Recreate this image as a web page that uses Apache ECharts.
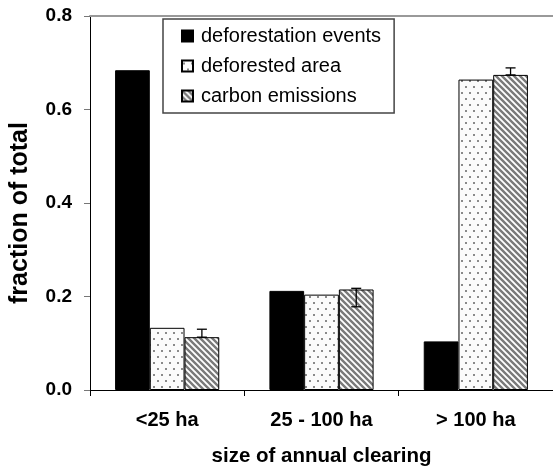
<!DOCTYPE html>
<html>
<head>
<meta charset="utf-8">
<script src="https://cdn.jsdelivr.net/npm/echarts@6/dist/echarts.min.js"></script>
<style>html,body{margin:0;padding:0;background:#fff}#c{width:553px;height:474px}</style>
</head>
<body>
<div id="c"></div>
<script>
const categories = ['<25 ha', '25 - 100 ha', '> 100 ha'];
const deforestationEvents = [0.684, 0.212, 0.104];
const deforestedArea = [0.133, 0.204, 0.664];
const carbonEmissions = [0.113, 0.215, 0.674];
const carbonErrHigh = [0.130, 0.2175, 0.689];
const carbonErrLow = [0.113, 0.178, 0.674];
const yTicks = [0.0, 0.2, 0.4, 0.6, 0.8];

const FONT = 'Liberation Sans, Arial, sans-serif';

function dotPattern() {
  const c = document.createElement('canvas');
  c.width = 8; c.height = 12;
  const g = c.getContext('2d');
  g.fillStyle = '#fbfbfb';
  g.fillRect(0, 0, 8, 12);
  g.fillStyle = '#8a8a8a';
  g.fillRect(1, 2, 2, 2);
  g.fillRect(5, 8, 2, 2);
  return c;
}
function hatchPattern() {
  const s = 6;
  const c = document.createElement('canvas');
  c.width = s; c.height = s;
  const g = c.getContext('2d');
  g.fillStyle = '#ffffff';
  g.fillRect(0, 0, s, s);
  g.strokeStyle = '#7a7a7a';
  g.lineWidth = 2.4;
  g.beginPath();
  g.moveTo(-1, -1); g.lineTo(s + 1, s + 1);
  g.moveTo(-s - 1, -1); g.lineTo(1, s + 1);
  g.moveTo(s - 1, -1); g.lineTo(2 * s + 1, s + 1);
  g.stroke();
  return c;
}

const chart = echarts.init(document.getElementById('c'), null, {renderer: 'canvas'});
const BW = 0.225;
const errData = categories.map((c, i) => [i, carbonErrHigh[i], carbonErrLow[i]]);

chart.setOption({
  animation: false,
  backgroundColor: '#fff',
  textStyle: {fontFamily: FONT},
  grid: {left: 90, right: 0, top: 16, bottom: 84, containLabel: false},
  legend: {
    orient: 'vertical',
    left: 163, top: 19,
    padding: [7, 13, 7, 18],
    itemGap: 10,
    itemWidth: 11, itemHeight: 11,
    icon: 'rect',
    borderColor: '#444', borderWidth: 1.5,
    backgroundColor: '#fff',
    data: ['deforestation events', 'deforested area', 'carbon emissions'],
    textStyle: {fontSize: 20, color: '#000', fontFamily: FONT, lineHeight: 20, padding: [0, 0, 0, 3]},
    selectedMode: false
  },
  graphic: [{
    type: 'text',
    x: 20, y: 213,
    rotation: Math.PI / 2,
    style: {text: 'fraction of total', fontSize: 25, fontWeight: 'bold', fill: '#000', fontFamily: FONT,
      align: 'center', verticalAlign: 'middle'}
  }],
  xAxis: [{
    type: 'category',
    data: categories,
    position: 'bottom',
    axisLine: {lineStyle: {color: '#000', width: 1}},
    axisTick: {show: true, length: 6, lineStyle: {color: '#000'}},
    axisLabel: {fontSize: 20, fontWeight: 'bold', color: '#000', margin: 20, fontFamily: FONT},
    name: 'size of annual clearing',
    nameLocation: 'middle',
    nameGap: 56,
    nameTextStyle: {fontSize: 20.5, fontWeight: 'bold', color: '#000', fontFamily: FONT}
  }, {
    type: 'category',
    data: categories,
    position: 'top',
    axisLine: {lineStyle: {color: '#999', width: 2}},
    axisTick: {show: false},
    axisLabel: {show: false}
  }],
  yAxis: {
    type: 'value',
    min: 0, max: 0.8, interval: 0.2,
    axisLine: {show: true, lineStyle: {color: '#000', width: 1}},
    axisTick: {show: true, length: 6, lineStyle: {color: '#777'}},
    splitLine: {show: false},
    axisLabel: {fontSize: 19, fontWeight: 'bold', color: '#000', margin: 18, fontFamily: FONT,
      formatter: v => v.toFixed(1)}
  },
  series: [{
    name: 'deforestation events',
    type: 'bar',
    data: deforestationEvents,
    barWidth: (BW * 100) + '%',
    barGap: '0%',
    itemStyle: {color: '#000', borderColor: '#000', borderWidth: 1}
  }, {
    name: 'deforested area',
    type: 'bar',
    data: deforestedArea,
    barWidth: (BW * 100) + '%',
    barGap: '0%',
    itemStyle: {color: {image: dotPattern(), repeat: 'repeat'}, borderColor: '#000', borderWidth: 1}
  }, {
    name: 'carbon emissions',
    type: 'bar',
    data: carbonEmissions,
    barWidth: (BW * 100) + '%',
    barGap: '0%',
    itemStyle: {color: {image: hatchPattern(), repeat: 'repeat'}, borderColor: '#000', borderWidth: 1}
  }, {
    name: 'error',
    type: 'custom',
    data: errData,
    z: 5,
    renderItem: function (params, api) {
      const i = api.value(0);
      const hi = api.coord([i, api.value(1)]);
      const lo = api.coord([i, api.value(2)]);
      const band = api.size([1, 0])[0];
      const x = hi[0] + band * BW;
      const cap = 5;
      const st = {stroke: '#000', lineWidth: 1.3};
      return {
        type: 'group',
        children: [
          {type: 'line', shape: {x1: x, y1: hi[1], x2: x, y2: lo[1]}, style: st},
          {type: 'line', shape: {x1: x - cap, y1: hi[1], x2: x + cap, y2: hi[1]}, style: st},
          {type: 'line', shape: {x1: x - cap, y1: lo[1], x2: x + cap, y2: lo[1]}, style: st}
        ]
      };
    }
  }]
});
</script>
</body>
</html>
